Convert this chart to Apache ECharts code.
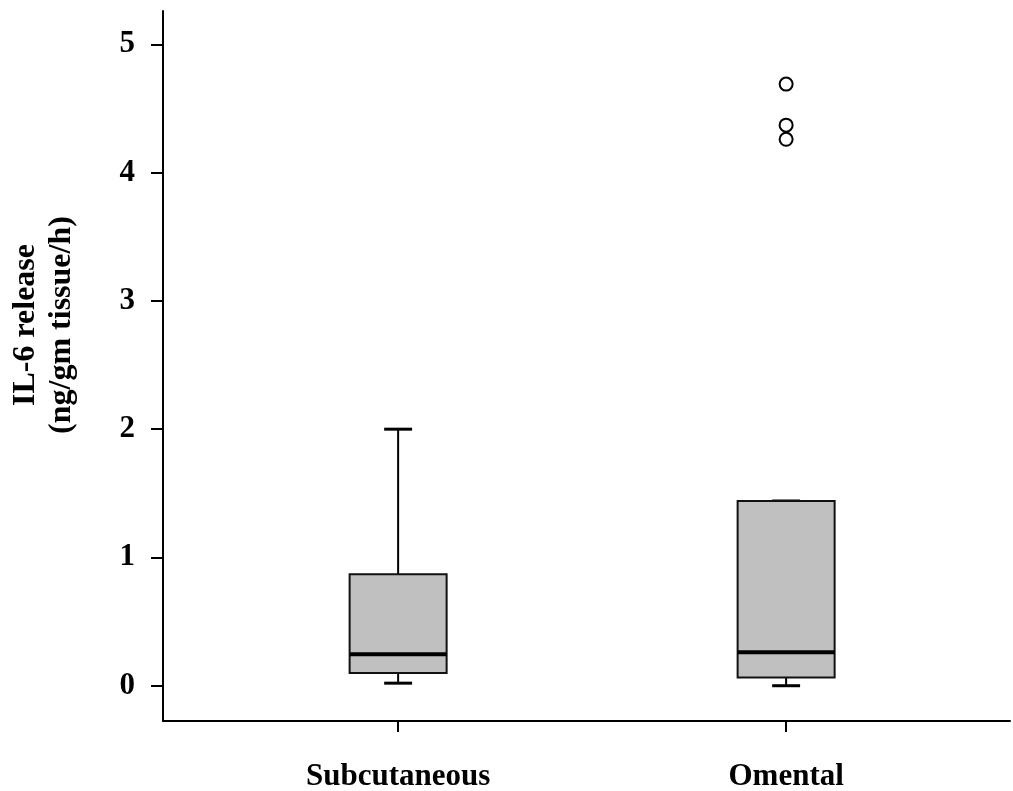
<!DOCTYPE html>
<html>
<head>
<meta charset="utf-8">
<script src="https://cdn.jsdelivr.net/npm/echarts@6/dist/echarts.min.js"></script>
<style>html,body{margin:0;padding:0;background:#fff}#c{width:1013px;height:791px}</style>
</head>
<body>
<div id="c"></div>
<script>
// Data
const categories = ['Subcutaneous', 'Omental'];
const categoryPos = [1, 2];
// [min, Q1, median, Q3, max]
const boxSubcutaneous = [0.02, 0.10, 0.245, 0.87, 2.0];
const boxOmental = [0.0, 0.065, 0.26, 1.44, 1.44];
const outliersOmental = [4.69, 4.37, 4.26];
const yTicks = [0, 1, 2, 3, 4, 5];

const boxes = [boxSubcutaneous, boxOmental];
const boxData = boxes.map((b, i) => [categoryPos[i]].concat(b));
const outlierData = outliersOmental.map(v => [categoryPos[1], v]);

const FONT = '"Liberation Serif", "Times New Roman", serif';
const BOX_HALF = 0.125;
const CAP_HALF = 0.036;

const chart = echarts.init(document.getElementById('c'), null, {renderer: 'canvas'});
chart.setOption({
  animation: false,
  backgroundColor: '#fff',
  grid: {left: 163, right: 3, top: 11, bottom: 70, containLabel: false, outerBoundsMode: 'none'},
  xAxis: {
    type: 'value', min: 0.394, max: 2.577,
    splitLine: {show: false},
    axisLine: {show: true, onZero: false, lineStyle: {color: '#000', width: 2}},
    axisTick: {show: true, customValues: categoryPos, length: 11, lineStyle: {color: '#000', width: 2}},
    axisLabel: {
      customValues: categoryPos, margin: 40,
      formatter: v => categories[categoryPos.indexOf(v)] || '',
      fontFamily: FONT, fontWeight: 'bold', fontSize: 31, color: '#000'
    }
  },
  yAxis: {
    type: 'value', min: -0.275, max: 5.26,
    splitLine: {show: false},
    axisLine: {show: true, onZero: false, lineStyle: {color: '#000', width: 2}},
    axisTick: {show: true, customValues: yTicks, length: 12, lineStyle: {color: '#000', width: 2}},
    axisLabel: {
      customValues: yTicks, margin: 28,
      fontFamily: FONT, fontWeight: 'bold', fontSize: 31, color: '#000'
    }
  },
  graphic: [{
    type: 'text',
    x: 44, y: 325,
    rotation: Math.PI / 2,
    style: {
      text: 'IL-6 release\n(ng/gm tissue/h)',
      align: 'center', verticalAlign: 'middle',
      font: 'bold 32px ' + FONT,
      lineHeight: 36,
      fill: '#000'
    }
  }],
  series: [{
    type: 'custom',
    data: boxData,
    encode: {x: 0, y: [1, 2, 3, 4, 5]},
    renderItem: function (params, api) {
      const x = api.value(0);
      const mn = api.value(1), q1 = api.value(2), md = api.value(3), q3 = api.value(4), mx = api.value(5);
      const tl = api.coord([x - BOX_HALF, q3]);
      const br = api.coord([x + BOX_HALF, q1]);
      const c = api.coord([x, 0])[0];
      const yMin = api.coord([x, mn])[1];
      const yMax = api.coord([x, mx])[1];
      const yMed = api.coord([x, md])[1];
      const capL = api.coord([x - CAP_HALF, 0])[0];
      const capR = api.coord([x + CAP_HALF, 0])[0];
      const lineStyle = {stroke: '#000', lineWidth: 2};
      const children = [];
      children.push({type: 'line', shape: {x1: c, y1: tl[1], x2: c, y2: yMax}, style: lineStyle});
      children.push({type: 'line', shape: {x1: c, y1: br[1], x2: c, y2: yMin}, style: lineStyle});
      children.push({type: 'line', shape: {x1: capL, y1: yMax, x2: capR, y2: yMax}, style: {stroke: '#000', lineWidth: 3}});
      children.push({type: 'line', shape: {x1: capL, y1: yMin, x2: capR, y2: yMin}, style: {stroke: '#000', lineWidth: 3}});
      children.push({type: 'rect', shape: {x: tl[0], y: tl[1], width: br[0] - tl[0], height: br[1] - tl[1]},
        style: {fill: '#c0c0c0', stroke: '#111', lineWidth: 2}});
      children.push({type: 'line', shape: {x1: tl[0], y1: yMed, x2: br[0], y2: yMed}, style: {stroke: '#000', lineWidth: 4}});
      return {type: 'group', children: children};
    }
  }, {
    type: 'scatter',
    data: outlierData,
    symbol: 'circle',
    symbolSize: 13,
    itemStyle: {color: '#fff', borderColor: '#000', borderWidth: 2, opacity: 1}
  }]
});
</script>
</body>
</html>
